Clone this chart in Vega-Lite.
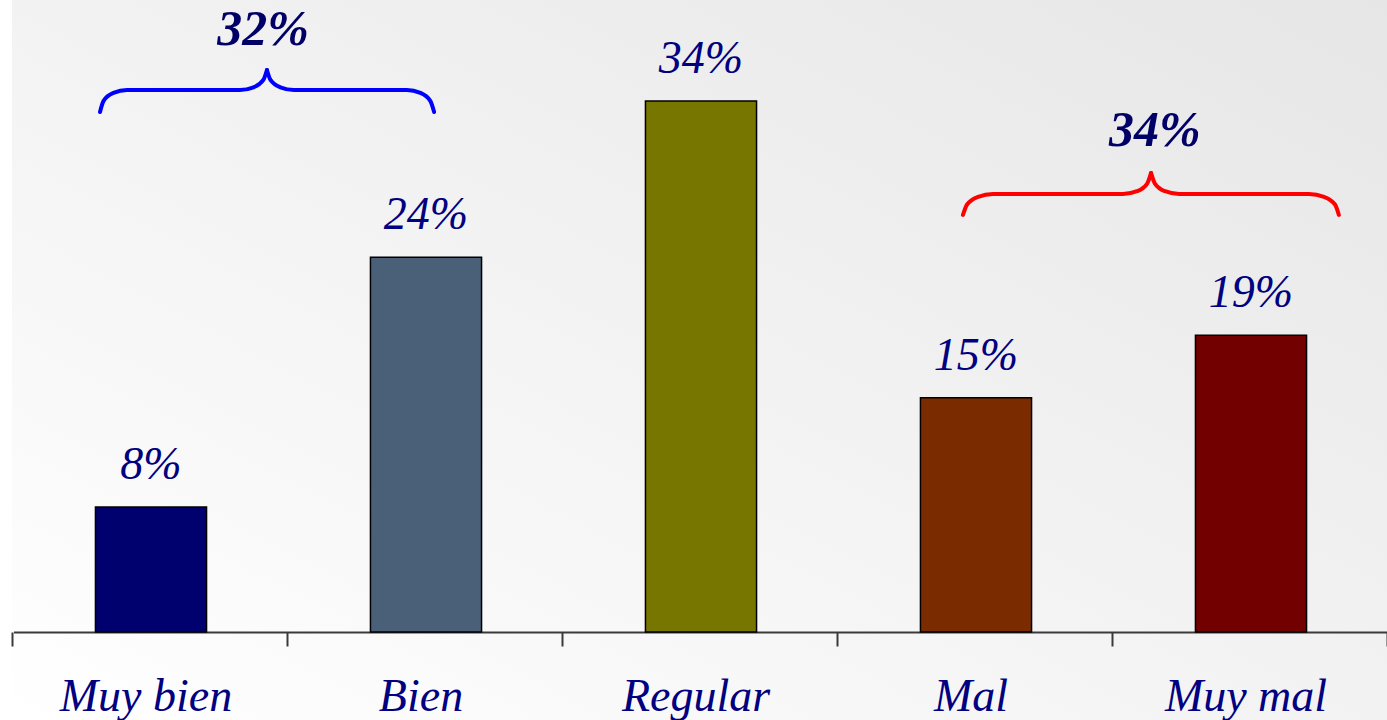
{
  "$schema": "https://vega.github.io/schema/vega-lite/v6.json",
  "width": 1375,
  "height": 720,
  "autosize": {"type": "none"},
  "padding": {"left": 12, "top": 0, "right": 0, "bottom": 0},
  "background": "#ffffff",
  "config": {
    "view": {
      "stroke": null,
      "fill": {"gradient": "linear", "x1": 0, "y1": 1, "x2": 1, "y2": 0, "stops": [{"offset": 0, "color": "#ffffff"}, {"offset": 1, "color": "#e6e6e6"}]}
    }
  },
  "datasets": {
    "bars": [
      {"cat": "Muy bien", "value": 8, "lbl": "8%"},
      {"cat": "Bien", "value": 24, "lbl": "24%"},
      {"cat": "Regular", "value": 34, "lbl": "34%"},
      {"cat": "Mal", "value": 15, "lbl": "15%"},
      {"cat": "Muy mal", "value": 19, "lbl": "19%"}
    ],
    "braces": [
      {"g": "b1", "c": "blue", "i": 0, "pos": 0.320, "y": 33.29},
      {"g": "b1", "c": "blue", "i": 1, "pos": 0.333, "y": 34.0},
      {"g": "b1", "c": "blue", "i": 2, "pos": 0.369, "y": 34.51},
      {"g": "b1", "c": "blue", "i": 3, "pos": 0.418, "y": 34.70},
      {"g": "b1", "c": "blue", "i": 4, "pos": 0.829, "y": 34.70},
      {"g": "b1", "c": "blue", "i": 5, "pos": 0.878, "y": 34.87},
      {"g": "b1", "c": "blue", "i": 6, "pos": 0.914, "y": 35.34},
      {"g": "b1", "c": "blue", "i": 7, "pos": 0.927, "y": 35.98},
      {"g": "b2", "c": "blue", "i": 0, "pos": 0.927, "y": 35.98},
      {"g": "b2", "c": "blue", "i": 1, "pos": 0.940, "y": 35.34},
      {"g": "b2", "c": "blue", "i": 2, "pos": 0.976, "y": 34.87},
      {"g": "b2", "c": "blue", "i": 3, "pos": 1.025, "y": 34.70},
      {"g": "b2", "c": "blue", "i": 4, "pos": 1.436, "y": 34.70},
      {"g": "b2", "c": "blue", "i": 5, "pos": 1.485, "y": 34.51},
      {"g": "b2", "c": "blue", "i": 6, "pos": 1.521, "y": 34.0},
      {"g": "b2", "c": "blue", "i": 7, "pos": 1.535, "y": 33.29},
      {"g": "r1", "c": "red", "i": 0, "pos": 3.458, "y": 26.70},
      {"g": "r1", "c": "red", "i": 1, "pos": 3.473, "y": 27.37},
      {"g": "r1", "c": "red", "i": 2, "pos": 3.513, "y": 27.86},
      {"g": "r1", "c": "red", "i": 3, "pos": 3.567, "y": 28.04},
      {"g": "r1", "c": "red", "i": 4, "pos": 4.040, "y": 28.04},
      {"g": "r1", "c": "red", "i": 5, "pos": 4.091, "y": 28.22},
      {"g": "r1", "c": "red", "i": 6, "pos": 4.128, "y": 28.71},
      {"g": "r1", "c": "red", "i": 7, "pos": 4.142, "y": 29.39},
      {"g": "r2", "c": "red", "i": 0, "pos": 4.142, "y": 29.39},
      {"g": "r2", "c": "red", "i": 1, "pos": 4.156, "y": 28.71},
      {"g": "r2", "c": "red", "i": 2, "pos": 4.193, "y": 28.22},
      {"g": "r2", "c": "red", "i": 3, "pos": 4.244, "y": 28.04},
      {"g": "r2", "c": "red", "i": 4, "pos": 4.716, "y": 28.04},
      {"g": "r2", "c": "red", "i": 5, "pos": 4.771, "y": 27.86},
      {"g": "r2", "c": "red", "i": 6, "pos": 4.811, "y": 27.37},
      {"g": "r2", "c": "red", "i": 7, "pos": 4.825, "y": 26.70}
    ],
    "totals": [
      {"pos": 0.913, "y": 37.58, "lbl": "32%"},
      {"pos": 4.156, "y": 31.11, "lbl": "34%"}
    ]
  },
  "resolve": {"scale": {"x": "independent", "color": "independent"}, "axis": {"x": "independent"}},
  "layer": [
    {
      "data": {"name": "bars"},
      "mark": {"type": "bar", "stroke": "#000000", "strokeWidth": 1.5},
      "encoding": {
        "x": {
          "field": "cat", "type": "nominal", "sort": null,
          "scale": {"paddingInner": 0.596, "paddingOuter": 0.298, "range": [1.5, 1376.5]},
          "axis": {
            "orient": "bottom", "offset": -88, "title": null, "ticks": false, "tickSize": 0,
            "labelAngle": 0, "labelFont": "Liberation Serif", "labelFontStyle": "italic",
            "labelFontSize": 46, "labelColor": "#000080", "labelBaseline": "alphabetic",
            "labelPadding": 78, "labelOffset": -5, "domainColor": "#3a3a3a", "domainWidth": 2, "grid": false
          }
        },
        "y": {
          "field": "value", "type": "quantitative", "stack": null,
          "scale": {"domain": [-5.63, 40.46], "nice": false, "zero": false},
          "axis": null
        },
        "color": {
          "field": "cat", "type": "nominal", "legend": null,
          "scale": {"domain": ["Muy bien", "Bien", "Regular", "Mal", "Muy mal"], "range": ["#00006e", "#4a6078", "#767600", "#7a2c00", "#720000"]}
        }
      }
    },
    {
      "data": {"name": "bars"},
      "mark": {"type": "text", "font": "Liberation Serif", "fontStyle": "italic", "fontSize": 46, "color": "#000080", "baseline": "alphabetic", "dy": -28},
      "encoding": {
        "x": {"field": "cat", "type": "nominal", "sort": null, "scale": {"paddingInner": 0.596, "paddingOuter": 0.298, "range": [1.5, 1376.5]}, "axis": null},
        "y": {"field": "value", "type": "quantitative"},
        "text": {"field": "lbl"}
      }
    },
    {
      "data": {"name": "braces"},
      "mark": {"type": "line", "interpolate": "monotone", "strokeWidth": 4, "strokeCap": "round"},
      "encoding": {
        "x": {
          "field": "pos", "type": "quantitative",
          "scale": {"domain": [0, 5], "nice": false, "zero": false},
          "axis": {"orient": "bottom", "offset": -88, "values": [0, 1, 2, 3, 4, 5], "labels": false, "domain": false, "grid": false, "tickSize": 14, "tickWidth": 2, "tickColor": "#3a3a3a", "title": null}
        },
        "y": {"field": "y", "type": "quantitative"},
        "detail": {"field": "g"},
        "order": {"field": "i"},
        "color": {"field": "c", "type": "nominal", "legend": null, "scale": {"domain": ["blue", "red"], "range": ["#0000ff", "#ff0000"]}}
      }
    },
    {
      "data": {"name": "totals"},
      "mark": {"type": "text", "font": "Liberation Serif", "fontStyle": "italic", "fontWeight": "bold", "fontSize": 50, "color": "#000066", "baseline": "alphabetic"},
      "encoding": {
        "x": {"field": "pos", "type": "quantitative", "scale": {"domain": [0, 5], "nice": false, "zero": false}, "axis": null},
        "y": {"field": "y", "type": "quantitative"},
        "text": {"field": "lbl"}
      }
    }
  ]
}
